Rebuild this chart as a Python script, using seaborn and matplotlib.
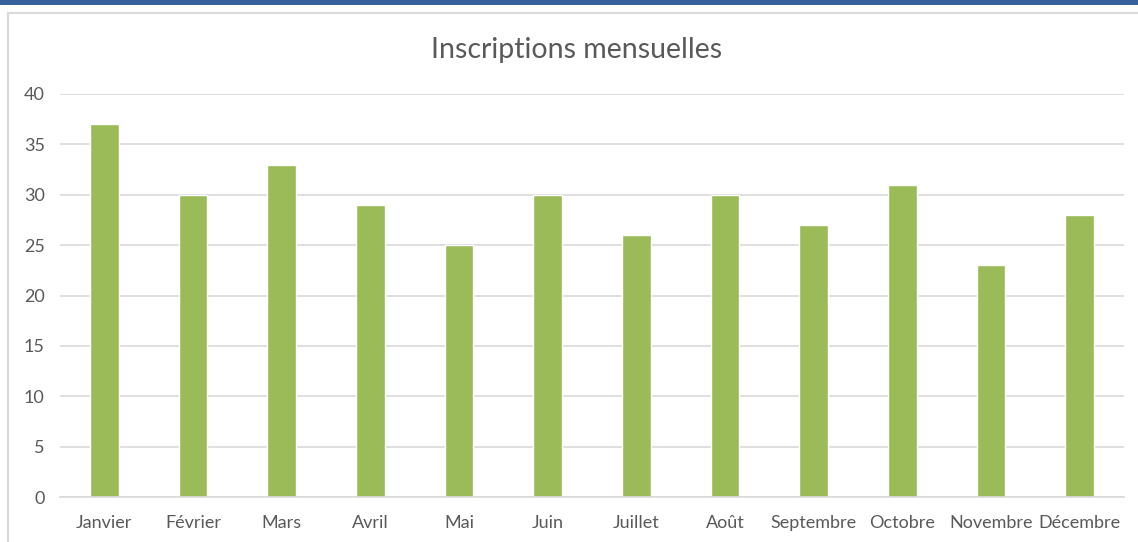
import matplotlib
matplotlib.use("Agg")
import matplotlib.pyplot as plt
import seaborn as sns
import pandas as pd
from matplotlib.patches import Rectangle

mois = ["Janvier", "Février", "Mars", "Avril", "Mai", "Juin", "Juillet",
        "Août", "Septembre", "Octobre", "Novembre", "Décembre"]
inscriptions = [37, 30, 33, 29, 25, 30, 26, 30, 27, 31, 23, 28]
yticks = [0, 5, 10, 15, 20, 25, 30, 35, 40]

sns.set_theme(style="white")
plt.rcParams['font.family'] = ['Lato', 'DejaVu Sans']

df = pd.DataFrame({"mois": mois, "inscriptions": inscriptions})

fig = plt.figure(figsize=(11.38, 5.42), dpi=100)
fig.patch.set_facecolor("white")

# top blue band and light border
fig.patches.append(Rectangle((0, 1 - 5/542), 1, 5/542, transform=fig.transFigure,
                             facecolor="#36619A", edgecolor="none", zorder=0))
fig.patches.append(Rectangle((8/1138, -0.05), 1.2, 1.05 - 13/542, transform=fig.transFigure,
                             facecolor="none", edgecolor="#D9D9D9", linewidth=1.5, zorder=0))

ax = fig.add_axes([60/1138, 1 - 497/542, (1124 - 60)/1138, (497 - 94)/542])
sns.barplot(data=df, x="mois", y="inscriptions", color="#9BBB59", saturation=1,
            width=0.32, ax=ax)

ax.set_ylim(0, 40)
ax.set_yticks(yticks)
ax.set_yticklabels([str(v) for v in yticks])
ax.set_xlim(-0.5, len(mois) - 0.5)
ax.set_xlabel("")
ax.set_ylabel("")
ax.yaxis.grid(True, color="#D9D9D9", linewidth=1.2)
ax.set_axisbelow(True)
for s in ["top", "right", "left"]:
    ax.spines[s].set_visible(False)
ax.spines["bottom"].set_color("#D9D9D9")
ax.spines["bottom"].set_linewidth(1.2)
ax.tick_params(axis="both", length=0, labelsize=13, colors="#595959")
ax.tick_params(axis="y", pad=11)
ax.tick_params(axis="x", pad=13)

fig.text(577/1138, 1 - 50/542, "Inscriptions mensuelles", ha="center", va="center",
         fontsize=20.5, color="#595959")

fig.savefig("out.png", dpi=100)
